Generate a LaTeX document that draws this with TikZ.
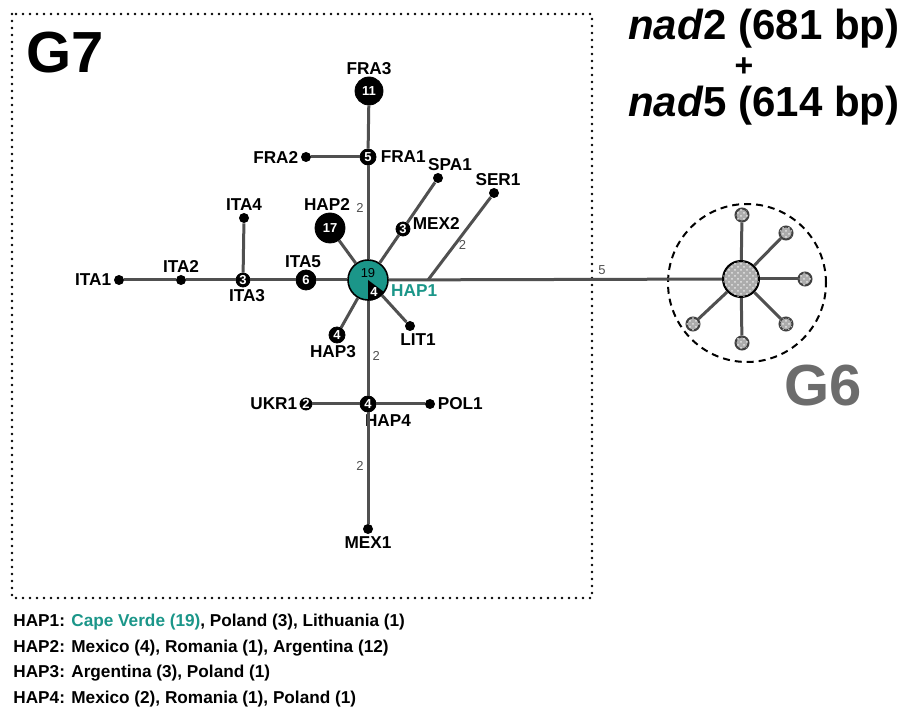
\documentclass[tikz,border=0pt]{standalone}
\usepackage{fontspec}
\setmainfont{Liberation Sans}
\usetikzlibrary{positioning,patterns}
\definecolor{capeteal}{RGB}{27,150,137}
\definecolor{linkgray}{RGB}{80,80,80}
\definecolor{grouptxt}{RGB}{108,108,108}

\begin{document}
\begin{tikzpicture}[x=0.5pt,y=-0.5pt,
						hap/.style={circle,draw=black,fill=black,text=white,inner sep=0pt,font=\bfseries\fontsize{6.5}{7}\selectfont},
						dotnode/.style={circle,fill=black,inner sep=0pt,minimum size=5pt},
						lab/.style={inner sep=1pt,font=\bfseries\fontsize{8.6}{10}\selectfont},
						elab/.style={inner sep=1.5pt,text=linkgray,font=\fontsize{6.5}{7}\selectfont},
						link/.style={draw=linkgray,line width=1.5pt},
						hatched/.style={fill=gray!65,postaction={pattern=crosshatch dots,pattern color=gray!20}},
						g6hub/.style={circle,draw=black,line width=1pt,hatched,inner sep=0pt,minimum size=18pt},
						g6sat/.style={circle,draw=black!75,line width=1pt,hatched,inner sep=0pt,minimum size=6.5pt},
						grouplab/.style={inner sep=0pt,font=\bfseries\fontsize{29}{32}\selectfont},
						titletxt/.style={inner sep=0pt,font=\bfseries\fontsize{21}{24}\selectfont}]
		\useasboundingbox (0,0) rectangle (906,711);

		\draw[line width=1.3pt,line cap=round,dash pattern=on 0pt off 3.5pt] (12,14) rectangle (592,598);
		\node[grouplab] (g7) at (65,53) {G7};

		\node[titletxt,anchor=base east] (nad2) at (900,40) {\textit{nad}2 (681 bp)};
		\node[titletxt,font=\bfseries\fontsize{16}{18}\selectfont] (plus) at (744,67) {+};
		\node[titletxt,anchor=base east] (nad5) at (900,117) {\textit{nad}5 (614 bp)};

		\node[hap,fill=capeteal,line width=0.8pt,minimum size=20pt]	(hap1)	at (368,280) {};
		\node[hap,minimum size=14pt]	(fra3)	at (369,91)	{11};
		\node[hap,minimum size=8pt]		(fra1)	at (368,157)	{5};
		\node[dotnode]					(fra2)	at (306,157)	{};
		\node[hap,minimum size=7pt]		(mex2)	at (403,229)	{3};
		\node[dotnode]					(spa1)	at (438,178)	{};
		\node[dotnode]					(ser1)	at (494,193)	{};
		\coordinate						(serj)	at (428,280);
		\node[hap,minimum size=15pt]	(hap2)	at (330,228)	{17};
		\node[hap,minimum size=10pt]	(ita5)	at (306,280)	{6};
		\node[hap,minimum size=7pt]		(ita3)	at (243,280)	{3};
		\node[dotnode]					(ita4)	at (244,218)	{};
		\node[dotnode]					(ita2)	at (181,280)	{};
		\node[dotnode]					(ita1)	at (119,280)	{};
		\node[hap,minimum size=8pt]		(hap3)	at (337,335)	{4};
		\node[dotnode]					(lit1)	at (410,326)	{};
		\node[hap,minimum size=8pt]		(hap4)	at (368,404)	{4};
		\node[hap,minimum size=6pt]		(ukr1)	at (306,404)	{2};
		\node[dotnode]					(pol1)	at (430,404)	{};
		\node[dotnode]					(mex1)	at (368,529)	{};

		\fill (hap1.center) -- (hap1.-90) arc[start angle=-90,end angle=-35,radius=10pt] -- cycle;
		\node[hap,fill=none,draw=none,text=black,font=\fontsize{6.5}{7}\selectfont] (hap1n)	at (368,273) {19};
		\node[hap,fill=none,draw=none]	(hap1m)	at (374,292) {4};

		\node[lab,above=0pt of fra3]			(fra3lab)	{FRA3};
		\node[lab,right=1pt of fra1]			(fra1lab)	{FRA1};
		\node[lab,left=0pt of fra2]				(fra2lab)	{FRA2};
		\node[lab,above=0pt of spa1,xshift=6pt]	(spa1lab)	{SPA1};
		\node[lab,right=0pt of mex2,yshift=3pt]	(mex2lab)	{MEX2};
		\node[lab,above=0pt of ser1,xshift=2pt]	(ser1lab)	{SER1};
		\node[lab,above=0pt of hap2,xshift=-1.5pt]	(hap2lab)	{HAP2};
		\node[lab,above=0pt of ita5,xshift=-1.5pt]	(ita5lab)	{ITA5};
		\node[lab,below=0pt of ita3,xshift=2pt]	(ita3lab)	{ITA3};
		\node[lab,above=0pt of ita4]			(ita4lab)	{ITA4};
		\node[lab,above=0pt of ita2]			(ita2lab)	{ITA2};
		\node[lab,left=0pt of ita1]				(ita1lab)	{ITA1};
		\node[lab,text=capeteal,right=0pt of hap1,yshift=-5.5pt]	(hap1lab)	{HAP1};
		\node[lab,below=0pt of hap3,xshift=-2pt]	(hap3lab)	{HAP3};
		\node[lab,below=0pt of lit1,xshift=4pt]	(lit1lab)	{LIT1};
		\node[lab,below=0pt of hap4,xshift=10pt]	(hap4lab)	{HAP4};
		\node[lab,left=0pt of ukr1]				(ukr1lab)	{UKR1};
		\node[lab,right=0pt of pol1]			(pol1lab)	{POL1};
		\node[lab,below=0pt of mex1]			(mex1lab)	{MEX1};

		\coordinate (ring) at (747,283);
		\node[g6hub]	(g6)	at (741,279) {};
		\node[g6sat]	(g6a)	at (742,215) {};
		\node[g6sat]	(g6b)	at (786,233) {};
		\node[g6sat]	(g6c)	at (805,279) {};
		\node[g6sat]	(g6d)	at (786,324) {};
		\node[g6sat]	(g6e)	at (742,343) {};
		\node[g6sat]	(g6f)	at (693,324) {};
		\draw[line width=1pt,dash pattern=on 3.5pt off 2.5pt] (ring) circle[radius=39.5pt];
		\node[grouplab,text=grouptxt] (g6lab) at (823,386) {G6};

		\draw[link] (hap1) -- node[elab,left,pos=0.55] (d1) {2} (fra1);
		\draw[link] (fra1) -- (fra3);
		\draw[link] (fra1) -- (fra2);
		\draw[link] (hap1) -- (mex2);
		\draw[link] (mex2) -- (spa1);
		\draw[link] (hap1) -- node[elab,above,pos=0.64] (d2) {5} (g6);
		\draw[link] (serj) -- node[elab,right,pos=0.42] (d3) {2} (ser1);
		\draw[link] (hap1) -- (hap2);
		\draw[link] (hap1) -- (ita5);
		\draw[link] (ita5) -- (ita3);
		\draw[link] (ita3) -- (ita4);
		\draw[link] (ita3) -- (ita2);
		\draw[link] (ita2) -- (ita1);
		\draw[link] (hap1) -- (hap3);
		\draw[link] (hap1) -- (lit1);
		\draw[link] (hap1) -- node[elab,right,pos=0.58] (d4) {2} (hap4);
		\draw[link] (hap4) -- (ukr1);
		\draw[link] (hap4) -- (pol1);
		\draw[link] (hap4) -- node[elab,left,pos=0.48] (d5) {2} (mex1);
		\draw[link] (g6) -- (g6a);
		\draw[link] (g6) -- (g6b);
		\draw[link] (g6) -- (g6c);
		\draw[link] (g6) -- (g6d);
		\draw[link] (g6) -- (g6e);
		\draw[link] (g6) -- (g6f);

		\node[lab,anchor=west] (leg1) at (11,622) {HAP1: \textcolor{capeteal}{Cape Verde (19)}, Poland (3), Lithuania (1)};
		\node[lab,below=2.4pt of leg1.south west,anchor=north west] (leg2) {HAP2: Mexico (4), Romania (1), Argentina (12)};
		\node[lab,below=2.4pt of leg2.south west,anchor=north west] (leg3) {HAP3: Argentina (3), Poland (1)};
		\node[lab,below=2.4pt of leg3.south west,anchor=north west] (leg4) {HAP4: Mexico (2), Romania (1), Poland (1)};
	\end{tikzpicture}
\end{document}
